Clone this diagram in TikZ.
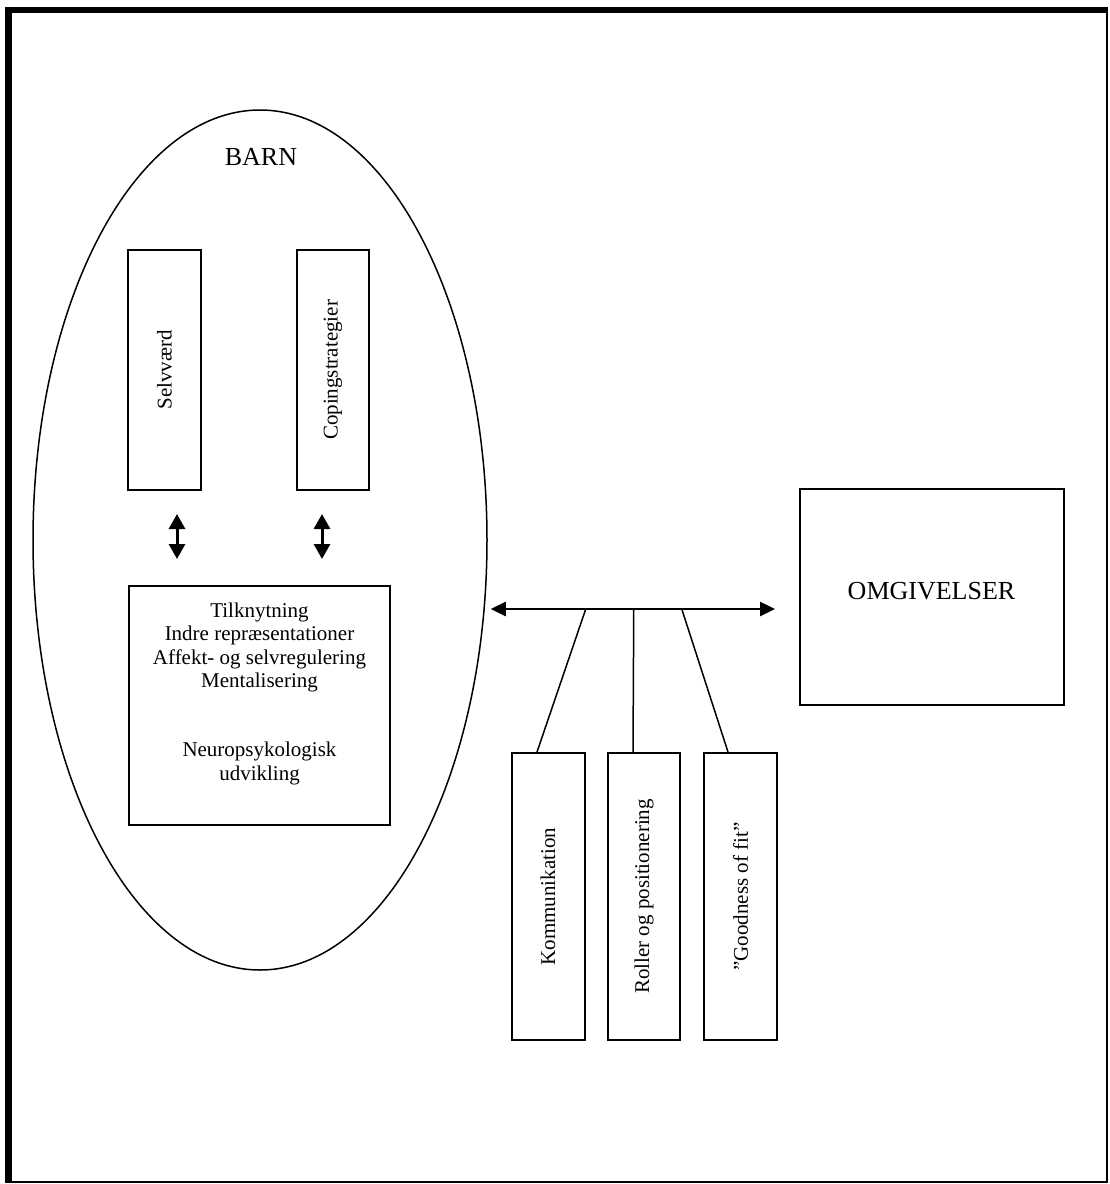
\documentclass[tikz,border=0pt]{standalone}
\usepackage{fontspec}
\setmainfont{Liberation Serif}
\usetikzlibrary{shapes.geometric,arrows.meta,calc}
\begin{document}
\begin{tikzpicture}[x=0.5pt,y=-0.5pt,
  box/.style={draw, line width=1pt, inner sep=0pt},
  small/.style={font=\fontsize{10.5}{11.75}\selectfont},
  big/.style={font=\fontsize{13}{15}\selectfont},
  vbox/.style={box, small, rotate=90, minimum height=36.5pt, minimum width=143.5pt},
  dblv/.style={line width=1.5pt, {Triangle[length=7.5pt,width=8pt]}-{Triangle[length=7.5pt,width=8pt]}},
  dblh/.style={line width=1.25pt, {Triangle[length=7.5pt,width=7pt]}-{Triangle[length=7.5pt,width=7pt]}},
  link/.style={line width=0.75pt}]
\useasboundingbox (0,0) rectangle (1109,1184);

% page frame: heavy on the left and top, thin on the right and bottom
\fill (5,7) rectangle (12,1183);
\fill (5,7) rectangle (1108,13);
\draw[line width=1pt] (12,1182) -- (1107,1182) -- (1107,13);

% the child
\node[draw, ellipse, line width=0.75pt, inner sep=0pt,
      minimum width=227pt, minimum height=430pt] (barn) at (260,540) {};
\node[big, anchor=base] (barnlbl) at (261,165) {BARN};

\node[vbox, minimum width=120pt] (selv) at (164.5,370) {Selvværd};
\node[vbox, minimum width=120pt, minimum height=36pt] (coping) at (333,370) {Copingstrategier};

\node[box, minimum width=130.5pt, minimum height=119.5pt] (tilk) at (259.5,705.5) {};
% multi-line node: its base anchor sits on the last line
\node[small, align=center, anchor=base] (tilktxt) at (259.5,780)
  {Tilknytning\\Indre repræsentationer\\Affekt- og selvregulering\\Mentalisering\\[22.75pt]Neuropsykologisk\\udvikling};

\draw[dblv] ($(selv.west)+(12.5,23)$) -- ($(tilk.north)+(-82.5,-26)$);
\draw[dblv] ($(coping.west)+(-11,23)$) -- ($(tilk.north)+(62.5,-26)$);

% the surroundings
\node[box, minimum width=132pt, minimum height=108pt] (omg) at (932,597) {};
\node[big, anchor=base] (omgtxt) at (931.5,599) {OMGIVELSER};

\coordinate (al) at ($(barn.east)+(3,69)$);
\coordinate (ar) at ($(omg.west)+(-24,12)$);
\draw[dblh] (al) -- (ar);

% mediating factors hanging from the link
\node[vbox] (kom) at (548,896.5) {Kommunikation};
\node[vbox, minimum height=36pt] (rol) at (644,896.5) {Roller og positionering};
\node[vbox] (good) at (740.5,896.5) {”Goodness of fit”};

\coordinate (j1) at ($(al)+(95,0)$);
\coordinate (j2) at ($(al)+(143,0)$);
\coordinate (j3) at ($(al)+(191,0)$);
\draw[link] (j1) -- ($(kom.east)+(-11,0)$);
\draw[link] (j2) -- ($(rol.east)+(-11,0)$);
\draw[link] (j3) -- ($(good.east)+(-12.5,0)$);
\end{tikzpicture}
\end{document}
